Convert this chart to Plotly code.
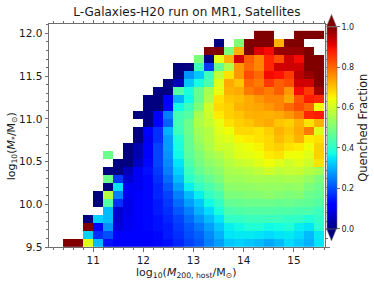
import numpy as np
import plotly.graph_objects as go

# ---------------- data ----------------
# bin layout of the 2D histogram
X_START, X_STEP, N_COLS = 10.4, 0.2, 26          # log10(M200,host/Msun) bins
Y_START, Y_STOP, N_ROWS = 9.5, 12.03, 27         # log10(M*/Msun) bins
X_TICKS = [11, 12, 13, 14, 15]
Y_TICKS = [9.5, 10.0, 10.5, 11.0, 11.5, 12.0]
CB_TICKS = [0.0, 0.2, 0.4, 0.6, 0.8, 1.0]

N = None
# quenched fraction, rows from lowest stellar mass bin (r0) upward, columns c0..c25
r00 = [1.0, 1.0, 0.62, 0.31, 0.14, 0.12, 0.11, 0.12, 0.12, 0.13, 0.14, 0.16, 0.19, 0.21, 0.25, 0.28, 0.32, 0.33, 0.32, 0.31, 0.29, 0.31, 0.34, 0.32, 0.30, 0.35]
r01 = [N, N, 0.33, 0.17, 0.20, 0.12, 0.11, 0.12, 0.12, 0.13, 0.15, 0.17, 0.20, 0.22, 0.26, 0.30, 0.35, 0.355, 0.355, 0.35, 0.34, 0.35, 0.355, 0.34, 0.31, 0.355]
r02 = [N, N, 1.0, 0.11, 0.27, 0.08, 0.10, 0.12, 0.13, 0.14, 0.15, 0.18, 0.21, 0.24, 0.28, 0.32, 0.36, 0.37, 0.39, 0.39, 0.37, 0.375, 0.39, 0.36, 0.35, 0.40]
r03 = [N, N, 0.0, 0.33, 0.31, 0.07, 0.10, 0.12, 0.13, 0.14, 0.16, 0.19, 0.23, 0.27, 0.31, 0.35, 0.41, 0.41, 0.42, 0.42, 0.42, 0.42, 0.41, 0.41, 0.39, 0.41]
r04 = [N, N, N, N, 0.31, 0.07, 0.09, 0.12, 0.13, 0.15, 0.17, 0.21, 0.25, 0.30, 0.34, 0.38, 0.44, 0.445, 0.45, 0.45, 0.45, 0.445, 0.445, 0.44, 0.44, 0.42]
r05 = [N, N, N, 0.0, 0.45, 0.17, 0.09, 0.11, 0.13, 0.15, 0.18, 0.23, 0.28, 0.32, 0.37, 0.41, 0.47, 0.475, 0.48, 0.48, 0.48, 0.475, 0.48, 0.47, 0.465, 0.45]
r06 = [N, N, N, 0.0, 0.57, 0.25, 0.10, 0.11, 0.13, 0.16, 0.19, 0.25, 0.31, 0.36, 0.41, 0.44, 0.50, 0.50, 0.51, 0.51, 0.52, 0.51, 0.50, 0.51, 0.48, 0.47]
r07 = [N, N, N, N, 0.0, 0.35, 0.10, 0.10, 0.13, 0.16, 0.21, 0.28, 0.36, 0.41, 0.44, 0.47, 0.52, 0.525, 0.525, 0.53, 0.53, 0.53, 0.525, 0.53, 0.50, 0.48]
r08 = [N, N, N, N, 0.48, 0.18, 0.07, 0.10, 0.13, 0.17, 0.23, 0.31, 0.40, 0.44, 0.47, 0.50, 0.54, 0.54, 0.55, 0.555, 0.55, 0.55, 0.555, 0.55, 0.53, 0.50]
r09 = [N, N, N, N, 0.0, 0.0, 0.05, 0.10, 0.14, 0.18, 0.25, 0.33, 0.42, 0.47, 0.50, 0.52, 0.555, 0.56, 0.57, 0.58, 0.60, 0.58, 0.59, 0.59, 0.57, 0.55]
r10 = [N, N, N, N, N, 0.0, 0.0, 0.06, 0.13, 0.19, 0.26, 0.35, 0.44, 0.49, 0.52, 0.54, 0.57, 0.59, 0.60, 0.62, 0.64, 0.62, 0.60, 0.62, 0.60, 0.67]
r11 = [N, N, N, N, 0.48, N, 0.0, 0.04, 0.12, 0.19, 0.27, 0.37, 0.46, 0.50, 0.54, 0.56, 0.59, 0.62, 0.625, 0.64, 0.66, 0.67, 0.64, 0.64, 0.62, 0.69]
r12 = [N, N, N, N, N, N, 0.0, 0.04, 0.12, 0.19, 0.28, 0.38, 0.47, 0.52, 0.56, 0.60, 0.60, 0.625, 0.64, 0.65, 0.68, 0.69, 0.67, 0.66, 0.64, 0.69]
r13 = [N, N, N, N, N, N, N, 0.0, 0.10, 0.17, 0.28, 0.39, 0.47, 0.54, 0.57, 0.61, 0.62, 0.65, 0.66, 0.67, 0.68, 0.71, 0.69, 0.72, 0.66, 0.67]
r14 = [N, N, N, N, N, N, N, 0.0, 0.11, 0.17, 0.30, 0.42, 0.48, 0.55, 0.57, 0.62, 0.64, 0.68, 0.68, 0.67, 0.69, 0.72, 0.70, 0.73, 0.78, 0.62]
r15 = [N, N, N, N, N, N, N, N, 0.0, 0.12, 0.22, 0.43, 0.48, 0.56, 0.59, 0.63, 0.67, 0.69, 0.70, 0.72, 0.73, 0.70, 0.69, 0.72, 0.67, 0.72]
r16 = [N, N, N, N, N, N, N, 0.0, 0.0, 0.10, 0.25, 0.43, 0.45, 0.55, 0.60, 0.66, 0.69, 0.70, 0.72, 0.725, 0.72, 0.73, 0.75, 0.78, 0.87, 0.88]
r17 = [N, N, N, N, N, N, N, N, 0.0, 0.0, 0.12, 0.37, 0.42, 0.50, 0.60, 0.68, 0.69, 0.72, 0.73, 0.735, 0.75, 0.77, 0.80, 0.83, 0.80, 0.64]
r18 = [N, N, N, N, N, N, N, N, 0.0, 0.0, 0.12, 0.30, 0.37, 0.47, 0.56, 0.67, 0.70, 0.71, 0.73, 0.75, 0.77, 0.77, 0.73, 0.82, 0.88, 0.87]
r19 = [N, N, N, N, N, N, N, N, N, 0.0, 0.0, 0.45, 0.38, 0.47, 0.55, 0.63, 0.72, 0.73, 0.78, 0.80, 0.78, 0.81, 0.75, 0.90, 0.85, 0.97]
r20 = [N, N, N, N, N, N, N, N, N, N, 0.0, 0.05, 0.32, 0.38, 0.44, 0.62, 0.73, 0.70, 0.80, 0.78, 0.85, 0.81, 0.83, 0.93, 0.93, 1.0]
r21 = [N, N, N, N, N, N, N, N, N, N, N, 0.0, 0.27, 0.32, 0.42, 0.58, 0.67, 0.75, 0.83, 0.80, 0.90, 0.89, 0.85, 0.95, 0.98, 1.0]
r22 = [N, N, N, N, N, N, N, N, N, N, N, 0.0, 0.0, 0.42, 0.18, 0.47, 0.56, 0.75, 0.80, 0.77, 0.87, 0.93, 0.93, 0.93, 1.0, 1.0]
r23 = [N, N, N, N, N, N, N, N, N, N, N, N, N, 0.50, 0.0, 0.63, 0.72, 0.93, 0.81, 0.77, 0.87, 0.83, 0.93, 0.90, 1.0, 1.0]
r24 = [N, N, N, N, N, N, N, N, N, N, N, N, N, N, 1.0, 1.0, 0.50, 0.72, 1.0, 0.92, 0.90, 0.98, 0.98, 0.98, 1.0, N]
r25 = [N, N, N, N, N, N, N, N, N, N, N, N, N, N, N, 0.0, N, 0.50, 1.0, 1.0, 1.0, 0.72, 1.0, 1.0, N, N]
r26 = [N, N, N, N, N, N, N, N, N, N, N, N, N, N, N, N, N, N, N, 1.0, 1.0, N, N, 1.0, 1.0, 1.0]

Z = [r00, r01, r02, r03, r04, r05, r06, r07, r08, r09, r10, r11, r12, r13,
     r14, r15, r16, r17, r18, r19, r20, r21, r22, r23, r24, r25, r26]

x_edges = X_START + X_STEP * np.arange(N_COLS + 1)
y_edges = np.linspace(Y_START, Y_STOP, N_ROWS + 1)

# ---------------- matplotlib "jet" colormap ----------------
seg_r = [(0, 0), (0.35, 0), (0.66, 1), (0.89, 1), (1, 0.5)]
seg_g = [(0, 0), (0.125, 0), (0.375, 1), (0.64, 1), (0.91, 0), (1, 0)]
seg_b = [(0, 0.5), (0.11, 1), (0.34, 1), (0.65, 0), (1, 0)]
brk = sorted(set([p for s in (seg_r, seg_g, seg_b) for p, _ in s]))


def chan(seg, t):
    return float(np.interp(t, [p for p, _ in seg], [v for _, v in seg]))


jet = [[t, "rgb({:.0f},{:.0f},{:.0f})".format(255 * chan(seg_r, t), 255 * chan(seg_g, t), 255 * chan(seg_b, t))]
       for t in brk]

# ---------------- geometry (pixels) ----------------
W, H = 374, 282
PL, PR, PT, PB = 49.3, 325.0, 24.0, 246.7
CB_LEFT, CB_W, CB_TOP, CB_BOT = 326.5, 10.0, 26.7, 228.3
TRI_TOP, TRI_BOT = 14.5, 240.5


def px(xp):
    return (xp - PL) / (PR - PL)


def py(yp):
    return (PB - yp) / (PB - PT)


AX = "#6e6e6e"
TXT = "#1a1a1a"
FONT = "DejaVu Sans"

fig = go.Figure()
fig.add_trace(go.Heatmap(
    x=x_edges, y=y_edges, z=Z,
    colorscale=jet, zmin=0, zmax=1, zsmooth=False,
    hoverongaps=False,
    colorbar=dict(
        x=px(CB_LEFT), xanchor="left", xpad=0,
        y=py(CB_TOP), yanchor="top", ypad=0,
        lenmode="pixels", len=CB_BOT - CB_TOP,
        thicknessmode="pixels", thickness=CB_W,
        outlinewidth=0.6, outlinecolor=AX,
        tickvals=CB_TICKS, tickformat=".1f",
        ticks="outside", ticklen=3, tickwidth=0.8, tickcolor=AX,
        tickfont=dict(family=FONT, size=8, color=TXT),
        title=dict(text="Quenched Fraction", side="right",
                   font=dict(family=FONT, size=11.5, color=TXT)),
    ),
))

# extension triangles of the colour bar
cx0, cx1 = px(CB_LEFT), px(CB_LEFT + CB_W)
cxm = px(CB_LEFT + CB_W / 2)
fig.add_shape(type="path", xref="paper", yref="paper",
              path=f"M {cx0} {py(CB_TOP)} L {cxm} {py(TRI_TOP)} L {cx1} {py(CB_TOP)} Z",
              fillcolor="rgb(128,0,0)", line=dict(color=AX, width=0.6))
fig.add_shape(type="path", xref="paper", yref="paper",
              path=f"M {cx0} {py(CB_BOT)} L {cxm} {py(TRI_BOT)} L {cx1} {py(CB_BOT)} Z",
              fillcolor="rgb(0,0,128)", line=dict(color=AX, width=0.6))

axis_common = dict(
    showgrid=False, zeroline=False, showline=True, linecolor=AX, linewidth=1,
    mirror="ticks", ticks="outside", ticklen=3.5, tickwidth=0.8, tickcolor=AX,
    tickfont=dict(family=FONT, size=10.5, color=TXT), automargin=False,
)
fig.update_xaxes(range=[10.12, 15.62], tickvals=X_TICKS,
                 minor=dict(dtick=0.2, tick0=11, ticks="outside", ticklen=2, tickwidth=0.6, tickcolor=AX),
                 **axis_common)
fig.update_yaxes(range=[9.5, 12.11], tickvals=Y_TICKS, tickformat=".1f",
                 minor=dict(dtick=0.1, tick0=9.5, ticks="outside", ticklen=2, tickwidth=0.6, tickcolor=AX),
                 **axis_common)

fig.add_annotation(text="log<sub>10</sub>(<i>M</i><sub>200, host</sub>/M<sub>⊙</sub>)",
                   xref="paper", yref="paper", x=px(186), y=py(272.5),
                   xanchor="center", yanchor="middle", showarrow=False,
                   font=dict(family=FONT, size=11, color=TXT))
fig.add_annotation(text="log<sub>10</sub>(<i>M</i><sub>*</sub>/M<sub>⊙</sub>)",
                   xref="paper", yref="paper", x=px(12), y=py(146.5),
                   xanchor="center", yanchor="middle", showarrow=False, textangle=-90,
                   font=dict(family=FONT, size=11, color=TXT))

fig.update_layout(
    width=W, height=H,
    margin=dict(l=PL, r=W - PR, t=PT, b=H - PB, pad=0, autoexpand=False),
    paper_bgcolor="white", plot_bgcolor="white",
    title=dict(text="L-Galaxies-H20 run on MR1, Satellites",
               x=px(187), xref="paper", xanchor="center",
               y=1 - 12 / H, yref="container", yanchor="middle",
               font=dict(family=FONT, size=12, color=TXT)),
    showlegend=False,
)

# remove the browser's default 8px page margin so the figure sits at (0, 0)
fig.write_html("out.html",
               config={"displayModeBar": False},
               post_script="document.body.style.margin='0';document.body.style.padding='0';")
